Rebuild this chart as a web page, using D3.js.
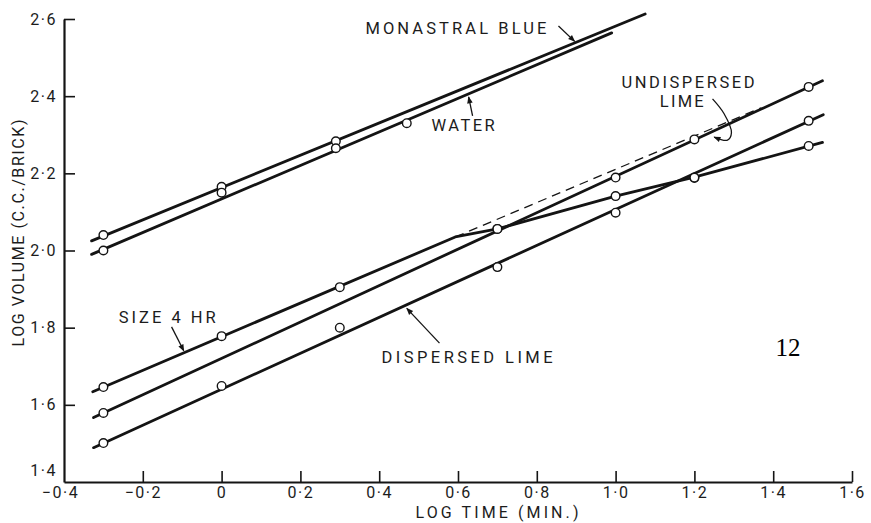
<!DOCTYPE html>
<html>
<head>
<meta charset="utf-8">
<script src="https://cdn.jsdelivr.net/npm/d3@7"></script>
<style>
  html, body { margin: 0; padding: 0; background: #fff; }
  svg { display: block; }
  .lbl { font-family: Roboto, "Liberation Sans", Arial, sans-serif; font-weight: 400; fill: #1c1c1c; }
</style>
</head>
<body>
<svg id="chart" width="871" height="523"></svg>
<script>
// Axis ticks
const xTicks = [-0.4, -0.2, 0, 0.2, 0.4, 0.6, 0.8, 1.0, 1.2, 1.4, 1.6];
const yTicks = [1.4, 1.6, 1.8, 2.0, 2.2, 2.4, 2.6];

// Measured points [log time, log volume]
const monastralPts = [[-0.3, 2.04], [0, 2.165], [0.29, 2.283]];
const waterPts = [[-0.3, 2.0], [0, 2.15], [0.29, 2.265], [0.47, 2.33]];
const size4hrPts = [[-0.3, 1.646], [0, 1.778], [0.3, 1.905], [0.7, 2.056], [1.0, 2.141], [1.2, 2.188], [1.49, 2.271]];
const undispersedPts = [[-0.3, 1.579], [0.7, 2.056], [1.0, 2.189], [1.2, 2.288], [1.49, 2.424]];
const dispersedPts = [[-0.3, 1.501], [0, 1.649], [0.3, 1.80], [0.7, 1.957], [1.0, 2.098], [1.2, 2.189], [1.49, 2.336]];

// Drawn lines through each set
const monastralLine = [[-0.33, 2.025], [1.075, 2.613]];
const waterLine = [[-0.33, 1.99], [0.99, 2.564]];
const size4hrLine = [[-0.327, 1.634], [0.593, 2.035], [0.7, 2.056], [1.0, 2.141], [1.2, 2.19], [1.525, 2.28]];
const undispersedLine = [[-0.325, 1.567], [1.525, 2.44]];
const dispersedLine = [[-0.325, 1.489], [1.527, 2.352]];
const size4hrExtension = [[0.593, 2.035], [1.37, 2.37]];

// Curve labels: text, anchor (data coords), fitted width
const curveLabels = [
  { text: "MONASTRAL  BLUE", at: [0.365, 2.561], w: 181 },
  { text: "WATER", at: [0.533, 2.310], w: 63 },
  { text: "UNDISPERSED", at: [1.015, 2.421], w: 133 },
  { text: "LIME", at: [1.112, 2.372], w: 44 },
  { text: "SIZE  4 HR", at: [-0.261, 1.812], w: 97 },
  { text: "DISPERSED  LIME", at: [0.406, 1.708], w: 171 }
];

// Leader arrows (tail -> tip), data coords
const leaders = [
  [[0.855, 2.582], [0.896, 2.542]],
  [[0.637, 2.349], [0.627, 2.398]],
  [[-0.127, 1.802], [-0.096, 1.740]],
  [[0.553, 1.760], [0.47, 1.850]]
];
// Curved leader for the undispersed lime line
const curvedLeader = [[1.246, 2.393], [1.275, 2.355], [1.294, 2.305], [1.284, 2.286], [1.25, 2.294]];

const figNumber = { text: "12", at: [1.406, 1.727] };

const svg = d3.select("#chart");
const ink = "#141414";

const x = d3.scaleLinear().domain([-0.4, 1.6]).range([64, 852]);
const y = d3.scaleLinear().domain([1.4, 2.6]).range([482, 19]);

const fmt = v => {
  if (Math.abs(v) < 1e-9) return "0";
  return (v < 0 ? "\u2212" : "") + Math.abs(v).toFixed(1).replace(".", "\u00B7");
};

// Arrowhead marker
svg.append("defs").append("marker")
  .attr("id", "head")
  .attr("viewBox", "0 0 10 10")
  .attr("refX", 9).attr("refY", 5)
  .attr("markerWidth", 9).attr("markerHeight", 7)
  .attr("markerUnits", "userSpaceOnUse")
  .attr("orient", "auto")
  .append("path").attr("d", "M0,1 L10,5 L0,9 Z").attr("fill", ink);

// Axes
const xAxis = svg.append("g")
  .attr("transform", `translate(0,${y(1.4)})`)
  .call(d3.axisBottom(x).tickValues(xTicks).tickFormat(fmt).tickSize(-11).tickSizeOuter(0).tickPadding(5));
const yAxis = svg.append("g")
  .attr("transform", `translate(${x(-0.4)},0)`)
  .call(d3.axisLeft(y).tickValues(yTicks).tickFormat(fmt).tickSize(-11).tickSizeOuter(0).tickPadding(7));

[xAxis, yAxis].forEach(g => {
  g.select(".domain").attr("stroke", ink).attr("stroke-width", 2.2);
  g.selectAll(".tick line").attr("stroke", ink).attr("stroke-width", 1.6);
  g.selectAll(".tick text")
    .attr("class", "lbl")
    .style("font-size", "16px")
    .style("letter-spacing", "1.5px")
    .attr("fill", ink);
});
// Corner: no tick at the origin, the two origin labels sit apart
xAxis.selectAll(".tick").filter(d => d === -0.4).select("line").remove();
xAxis.selectAll(".tick").filter(d => d === -0.4).select("text").attr("dx", -4);
yAxis.selectAll(".tick").filter(d => d === 1.4).select("line").remove();
yAxis.selectAll(".tick").filter(d => d === 1.4).select("text").attr("dy", "-0.4em");

// Axis titles
svg.append("text").attr("class", "lbl")
  .attr("x", 497).attr("y", 518)
  .attr("text-anchor", "middle")
  .attr("textLength", 163).attr("lengthAdjust", "spacing")
  .style("font-size", "16px")
  .text("LOG TIME (MIN.)");
svg.append("text").attr("class", "lbl")
  .attr("transform", "translate(24,233) rotate(-90)")
  .attr("text-anchor", "middle")
  .attr("textLength", 227).attr("lengthAdjust", "spacing")
  .style("font-size", "16px")
  .text("LOG VOLUME (C.C./BRICK)");

// Lines
const line = d3.line().x(d => x(d[0])).y(d => y(d[1]));
const plot = svg.append("g");
[monastralLine, waterLine, size4hrLine, undispersedLine, dispersedLine].forEach(pts => {
  plot.append("path").attr("d", line(pts))
    .attr("fill", "none").attr("stroke", ink)
    .attr("stroke-width", 2.8).attr("stroke-linejoin", "round").attr("stroke-linecap", "round");
});
plot.append("path").attr("d", line(size4hrExtension))
  .attr("fill", "none").attr("stroke", ink)
  .attr("stroke-width", 1.3).attr("stroke-dasharray", "9,6");

// Points
[monastralPts, waterPts, size4hrPts, undispersedPts, dispersedPts].forEach(pts => {
  plot.selectAll(null).data(pts).enter().append("circle")
    .attr("cx", d => x(d[0])).attr("cy", d => y(d[1]))
    .attr("r", 4.3)
    .attr("fill", "#fff").attr("stroke", ink).attr("stroke-width", 1.4);
});

// Labels
svg.selectAll(null).data(curveLabels).enter().append("text")
  .attr("class", "lbl")
  .attr("x", d => x(d.at[0])).attr("y", d => y(d.at[1]))
  .attr("textLength", d => d.w).attr("lengthAdjust", "spacing")
  .style("font-size", "16.5px")
  .text(d => d.text);

// Leaders
leaders.forEach(seg => {
  svg.append("path").attr("d", line(seg))
    .attr("fill", "none").attr("stroke", ink).attr("stroke-width", 1.3)
    .attr("marker-end", "url(#head)");
});
svg.append("path")
  .attr("d", d3.line().x(d => x(d[0])).y(d => y(d[1])).curve(d3.curveCatmullRom)(curvedLeader))
  .attr("fill", "none").attr("stroke", ink).attr("stroke-width", 1.3)
  .attr("marker-end", "url(#head)");

// Figure number
svg.append("text")
  .attr("x", x(figNumber.at[0])).attr("y", y(figNumber.at[1]))
  .style("font-family", "'Liberation Serif', 'Times New Roman', serif")
  .style("font-size", "25px")
  .attr("fill", "#000")
  .text(figNumber.text);
</script>
</body>
</html>
